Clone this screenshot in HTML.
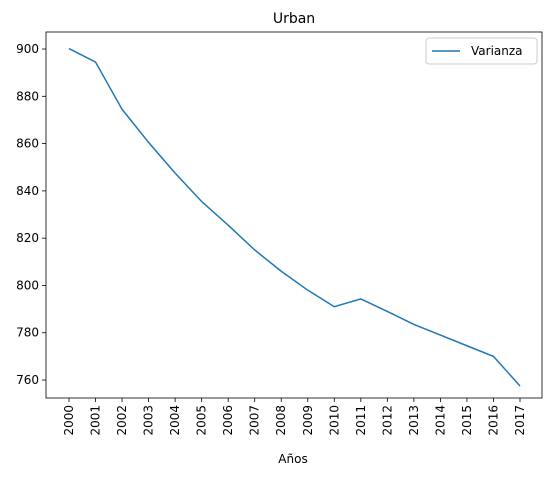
<!DOCTYPE html>
<html><head><meta charset="utf-8"><style>
body{margin:0;background:#fff;font-family:"Liberation Sans","DejaVu Sans",sans-serif}
</style></head><body>
<svg id="chart" width="552" height="476" xmlns="http://www.w3.org/2000/svg" font-family="DejaVu Sans, Liberation Sans, sans-serif"></svg>
<script>
const years=["2000","2001","2002","2003","2004","2005","2006","2007","2008","2009","2010","2011","2012","2013","2014","2015","2016","2017"];
const varianza=[900.2,894.5,874.5,860.5,847.5,835.5,825.5,815,806,798,791,794.3,789,783.5,779,774.5,770,757.5];
const yTicks=[760,780,800,820,840,860,880,900];
const L=46,R=542,T=32,B=398;
const yMin=752.4,yMax=907.2;
const x=i=>69+i*(520-69)/(years.length-1);
const y=v=>B-(v-yMin)/(yMax-yMin)*(B-T);
const svg=document.getElementById('chart');
const NS="http://www.w3.org/2000/svg";
function mk(t,a,txt){const e=document.createElementNS(NS,t);for(const k in a)e.setAttribute(k,a[k]);if(txt!==undefined)e.textContent=txt;svg.appendChild(e);return e;}
let e;
e=mk('text',{x:294,y:23,'text-anchor':'middle','font-size':14},'Urban');


yTicks.forEach(v=>{
 e=mk('line',{x1:L-4,x2:L,y1:y(v),y2:y(v),stroke:'#000','stroke-width':0.8});
 
 
 e=mk('text',{x:L-7,y:y(v)+4,'text-anchor':'end','font-size':12},String(v));
 
 
});
years.forEach((yr,i)=>{
 e=mk('line',{x1:x(i),x2:x(i),y1:B,y2:B+4,stroke:'#000','stroke-width':0.8});
 
 
 e=mk('text',{x:0,y:0,'text-anchor':'end','font-size':12,transform:`translate(${x(i)+4},${B+7}) rotate(-90)`},yr);
 
 
});
e=mk('polyline',{points:varianza.map((v,i)=>x(i)+','+y(v)).join(' '),fill:'none',stroke:'#1f77b4','stroke-width':1.5});


e=mk('rect',{x:L,y:T,width:R-L,height:B-T,fill:'none',stroke:'#000','stroke-width':0.8});


e=mk('text',{x:293,y:463,'text-anchor':'middle','font-size':12},'Años');


e=mk('rect',{x:426,y:38,width:111,height:26,rx:3,fill:'#fff',stroke:'#ccc','stroke-width':1});


e=mk('line',{x1:432,x2:460,y1:51,y2:51,stroke:'#1f77b4','stroke-width':1.5});


e=mk('text',{x:471,y:55,'font-size':12},'Varianza');


</script>
</body></html>
